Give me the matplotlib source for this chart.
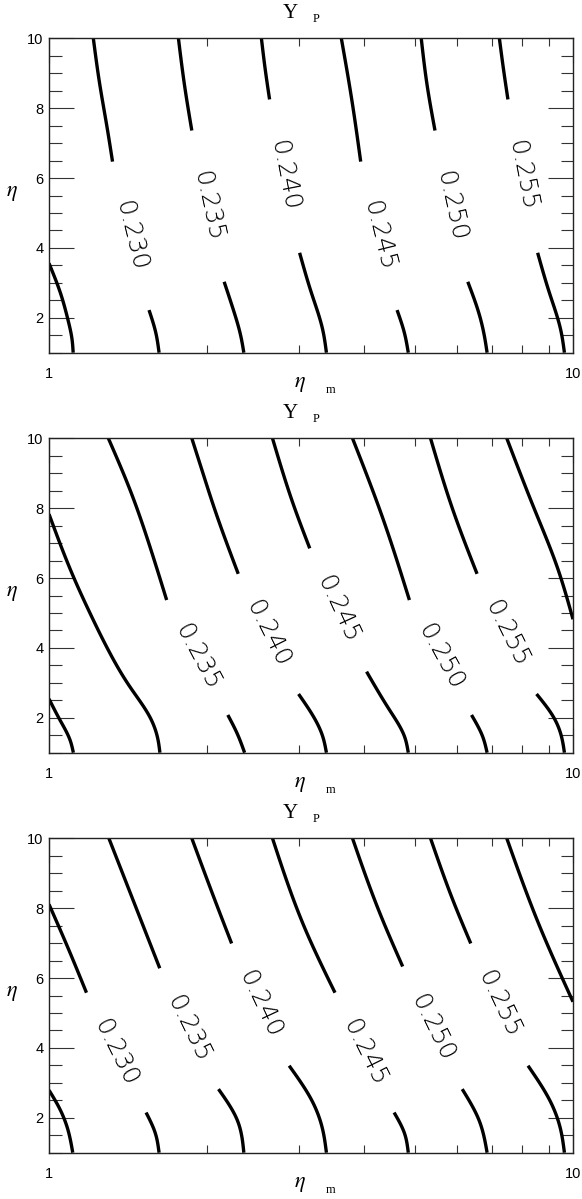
import numpy as np
import matplotlib
matplotlib.use('Agg')
import matplotlib.pyplot as plt
from matplotlib.ticker import FixedLocator, FixedFormatter, MultipleLocator, NullFormatter

plt.rcParams['mathtext.fontset'] = 'stix'

# contour levels of Y_P
levels = [0.225, 0.230, 0.235, 0.240, 0.245, 0.250, 0.255, 0.260]
label_fmt = '{:.3f}'

# each contour: piece above the label and piece below it (eta_m, eta)
# panel 1
p1_upper = {
    0.230: ([1.215, 1.249, 1.290, 1.322], [10.0, 8.71, 7.47, 6.47]),
    0.235: ([1.766, 1.813, 1.873], [10.0, 8.68, 7.36]),
    0.240: ([2.543, 2.585, 2.636], [10.0, 9.13, 8.25]),
    0.245: ([3.613, 3.784, 3.934], [10.0, 8.23, 6.47]),
    0.250: ([5.133, 5.261, 5.453], [10.0, 8.71, 7.36]),
    0.255: ([7.236, 7.356, 7.513], [10.0, 9.19, 8.25]),
}
p1_lower = {
    0.225: ([1.0, 1.052, 1.087, 1.107, 1.112], [3.56, 2.70, 1.94, 1.36, 1.0]),
    0.230: ([1.552, 1.600, 1.622], [2.22, 1.55, 1.0]),
    0.235: ([2.159, 2.249, 2.324, 2.354], [3.03, 2.22, 1.46, 1.0]),
    0.240: ([3.008, 3.170, 3.330, 3.384], [3.86, 2.70, 1.65, 1.0]),
    0.245: ([4.616, 4.770, 4.849], [2.22, 1.55, 1.0]),
    0.250: ([6.298, 6.613, 6.778, 6.856], [3.03, 2.13, 1.46, 1.0]),
    0.255: ([8.561, 9.022, 9.475, 9.630], [3.86, 2.70, 1.65, 1.0]),
}

# panel 2
p2_upper = {
    0.235: ([1.298, 1.428, 1.558, 1.677], [10.0, 8.52, 6.90, 5.37]),
    0.240: ([1.873, 1.967, 2.073, 2.297], [10.0, 9.00, 7.95, 6.12]),
    0.245: ([2.670, 2.921, 3.145], [10.0, 8.14, 6.85]),
    0.250: ([3.795, 4.324, 4.873], [10.0, 7.76, 5.37]),
    0.255: ([5.347, 5.899, 6.560], [10.0, 7.95, 6.12]),
    0.260: ([7.475, 8.452, 9.322, 10.0], [10.0, 7.95, 6.33, 4.82]),
}
p2_lower = {
    0.225: ([1.0, 1.049, 1.097, 1.113], [2.54, 1.94, 1.36, 1.0]),
    0.230: ([1.0, 1.113, 1.197, 1.307, 1.428, 1.558, 1.615, 1.628],
            [7.83, 6.04, 5.00, 3.85, 2.88, 2.02, 1.36, 1.0]),
    0.235: ([2.194, 2.286, 2.362], [2.08, 1.55, 1.0]),
    0.240: ([2.994, 3.223, 3.330, 3.384], [2.68, 1.94, 1.46, 1.0]),
    0.245: ([4.037, 4.467, 4.770, 4.849], [3.32, 2.22, 1.46, 1.0]),
    0.250: ([6.402, 6.724, 6.856], [2.08, 1.46, 1.0]),
    0.255: ([8.520, 9.171, 9.507, 9.630], [2.68, 2.03, 1.46, 1.0]),
}

# panel 3
p3_upper = {
    0.230: ([1.0, 1.078, 1.179], [8.11, 6.99, 5.58]),
    0.235: ([1.301, 1.447, 1.627], [10.0, 8.23, 6.28]),
    0.240: ([1.873, 2.073, 2.231], [10.0, 8.23, 6.99]),
    0.245: ([2.670, 3.069, 3.514], [10.0, 7.47, 5.58]),
    0.250: ([3.795, 4.255, 4.731], [10.0, 7.95, 6.33]),
    0.255: ([5.347, 5.899, 6.381], [10.0, 8.23, 6.99]),
    0.260: ([7.475, 8.590, 10.0], [10.0, 7.57, 5.32]),
}
p3_lower = {
    0.225: ([1.0, 1.043, 1.087, 1.110], [2.79, 2.32, 1.65, 1.0]),
    0.230: ([1.532, 1.596, 1.622], [2.15, 1.55, 1.0]),
    0.235: ([2.106, 2.286, 2.354], [2.82, 1.94, 1.0]),
    0.240: ([2.873, 3.170, 3.330, 3.384], [3.49, 2.51, 1.65, 1.0]),
    0.245: ([4.556, 4.770, 4.849], [2.15, 1.55, 1.0]),
    0.250: ([6.146, 6.613, 6.856], [2.82, 1.94, 1.0]),
    0.255: ([8.207, 9.022, 9.475, 9.630], [3.49, 2.51, 1.65, 1.0]),
}

panels = [(p1_upper, p1_lower), (p2_upper, p2_lower), (p3_upper, p3_lower)]

W, H = 582, 1199
fig = plt.figure(figsize=(W / 100, H / 100), dpi=100)


def fx(px):
    return px / W


def fy(py):
    return 1 - py / H


def smooth(xs, ys, n=80):
    # natural cubic spline of log(eta_m) against eta through the read points (drawing only)
    y = np.asarray(ys, float)[::-1]
    u = np.log10(np.asarray(xs, float))[::-1]
    if len(y) < 3:
        return xs, ys
    h = np.diff(y)
    m = len(y)
    A = np.zeros((m, m))
    r = np.zeros(m)
    A[0, 0] = A[-1, -1] = 1
    for k in range(1, m - 1):
        A[k, k - 1] = h[k - 1]
        A[k, k] = 2 * (h[k - 1] + h[k])
        A[k, k + 1] = h[k]
        r[k] = 6 * ((u[k + 1] - u[k]) / h[k] - (u[k] - u[k - 1]) / h[k - 1])
    M = np.linalg.solve(A, r)
    yq = np.linspace(y[0], y[-1], n)
    k = np.clip(np.searchsorted(y, yq) - 1, 0, m - 2)
    t0 = y[k + 1] - yq
    t1 = yq - y[k]
    hk = h[k]
    uq = (M[k] * t0 ** 3 + M[k + 1] * t1 ** 3) / (6 * hk) \
        + (u[k] / hk - M[k] * hk / 6) * t0 + (u[k + 1] / hk - M[k + 1] * hk / 6) * t1
    return 10 ** uq, yq


serif = ['Liberation Serif', 'DejaVu Serif']
sans = ['Liberation Sans', 'DejaVu Sans']

for i, (upper, lower) in enumerate(panels):
    top = 38.3 + 400 * i
    bot = 352.7 + 400 * i
    ax = fig.add_axes([fx(49), fy(bot), fx(573) - fx(49), (bot - top) / H])
    ax.set_xscale('log')
    ax.set_xlim(1, 10)
    ax.set_ylim(1, 10)

    for piece in (upper, lower):
        for lev, (xs, ys) in piece.items():
            sx, sy = smooth(xs, ys)
            ax.plot(sx, sy, color='black', lw=2.4, solid_capstyle='butt')

    # labels sit in the gap between the two pieces of each contour
    for lev in levels:
        if lev in upper and lev in lower:
            a = ax.transData.transform((upper[lev][0][-1], upper[lev][1][-1]))
            b = ax.transData.transform((lower[lev][0][0], lower[lev][1][0]))
            mid = ax.transData.inverted().transform((a + b) / 2)
            ang = np.degrees(np.arctan2(b[1] - a[1], b[0] - a[0]))
            ax.text(mid[0], mid[1], label_fmt.format(lev), rotation=ang,
                    rotation_mode='anchor', ha='center', va='center',
                    fontsize=18, family='DejaVu Sans', fontweight='light',
                    color='black')

    ax.xaxis.set_major_locator(FixedLocator([1, 10]))
    ax.xaxis.set_major_formatter(FixedFormatter(['1', '10']))
    ax.xaxis.set_minor_locator(FixedLocator([2, 3, 4, 5, 6, 7, 8, 9]))
    ax.xaxis.set_minor_formatter(NullFormatter())
    ax.yaxis.set_major_locator(FixedLocator([2, 4, 6, 8, 10]))
    ax.yaxis.set_minor_locator(MultipleLocator(0.5))

    ax.tick_params(which='both', direction='in', top=True, right=True,
                   color='#333333', width=0.8)
    ax.tick_params(axis='y', which='major', length=18, pad=4, labelsize=10.5)
    ax.tick_params(axis='y', which='minor', length=9)
    ax.tick_params(axis='x', which='major', length=18, pad=10, labelsize=10.5)
    ax.tick_params(axis='x', which='minor', length=5.8)
    for lab in ax.get_xticklabels() + ax.get_yticklabels():
        lab.set_family(sans)
    for sp in ax.spines.values():
        sp.set_linewidth(1.0)
        sp.set_color('#222222')

    # title Y_P, axis labels eta_m and eta
    fig.text(fx(290), fy(14 + 400 * i), 'Y', family=serif, fontsize=15,
             ha='center', va='center')
    fig.text(fx(316), fy(19 + 400 * i), 'P', family=serif, fontsize=9,
             ha='center', va='center')
    fig.text(fx(300), fy(384 + 400 * i), r'$\eta$', fontsize=16,
             ha='center', va='center')
    fig.text(fx(331), fy(390 + 400 * i), 'm', family=serif, fontsize=9,
             ha='center', va='center')
    fig.text(fx(12), fy(193 + 400 * i), r'$\eta$', fontsize=16,
             ha='center', va='center')

fig.savefig('out.png', dpi=100)
